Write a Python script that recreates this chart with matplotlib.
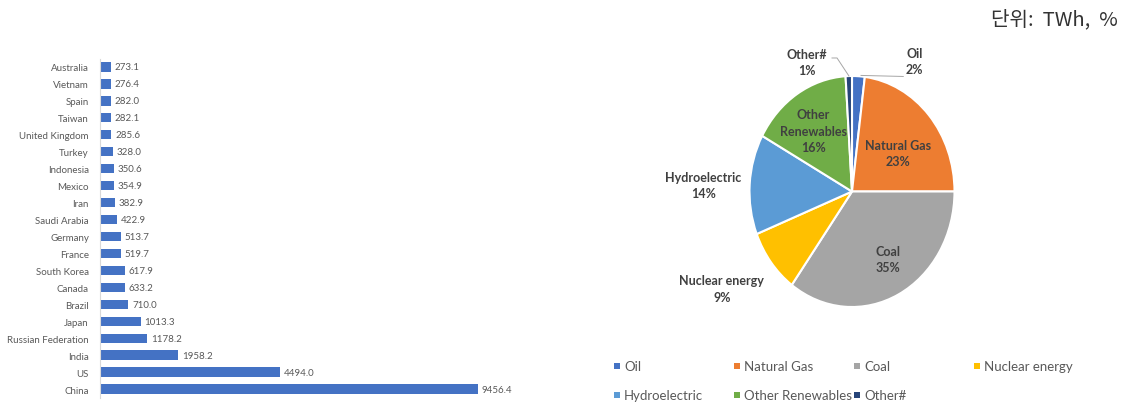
import matplotlib
matplotlib.use("Agg")
import matplotlib.pyplot as plt
from matplotlib.patches import Rectangle
import numpy as np

# Electricity generation by country (TWh)
countries = ["Australia", "Vietnam", "Spain", "Taiwan", "United Kingdom", "Turkey",
             "Indonesia", "Mexico", "Iran", "Saudi Arabia", "Germany", "France",
             "South Korea", "Canada", "Brazil", "Japan", "Russian Federation",
             "India", "US", "China"]
generation = [273.1, 276.4, 282.0, 282.1, 285.6, 328.0, 350.6, 354.9, 382.9, 422.9,
              513.7, 519.7, 617.9, 633.2, 710.0, 1013.3, 1178.2, 1958.2, 4494.0, 9456.4]

# Generation mix by source (%)
sources = ["Oil", "Natural Gas", "Coal", "Nuclear energy", "Hydroelectric",
           "Other Renewables", "Other#"]
shares = [2, 23, 35, 9, 14, 16, 1]
pie_labels = ["Oil", "Natural Gas", "Coal", "Nuclear energy", "Hydroelectric",
              "Other\nRenewables", "Other#"]

colors = ["#4472C4", "#ED7D31", "#A5A5A5", "#FFC000", "#5B9BD5", "#70AD47", "#264478"]

W, H = 1125, 406
fig = plt.figure(figsize=(W / 100, H / 100), dpi=100)
fig.patch.set_facecolor("white")

label_font = ["Lato", "DejaVu Sans"]

# ---- horizontal bar chart ----
ax = fig.add_axes([100 / W, 7.5 / H, 460 / W, 339 / H])
y = np.arange(len(countries))
ax.barh(y, generation, height=0.55, color="#4472C4")
ax.set_ylim(len(countries) - 0.5, -0.5)
ax.set_xlim(0, 11500)
ax.set_yticks(y)
ax.set_yticklabels(countries, fontsize=7, color="#595959", family=label_font)
ax.tick_params(axis="y", length=0, pad=8)
ax.set_xticks([])
for s in ["top", "right", "bottom"]:
    ax.spines[s].set_visible(False)
ax.spines["left"].set_color("#D9D9D9")
ax.spines["left"].set_linewidth(0.8)
for yi, v in zip(y, generation):
    ax.text(v + 90, yi, f"{v:.1f}", va="center", ha="left", fontsize=7,
            color="#595959", family=label_font)

# ---- pie chart (slightly taller than wide) ----
cx, cy = 852, 192.5
rx, ry = 102.5, 115.5
half = 150
pax = fig.add_axes([(cx - half) / W, (H - cy - half) / H, 2 * half / W, 2 * half / H])
wedges, _ = pax.pie(shares, colors=colors, startangle=90, counterclock=False,
                    wedgeprops=dict(edgecolor="white", linewidth=1.5), radius=1.0)
pax.set_aspect("auto")
pax.set_xlim(-half / rx, half / rx)
pax.set_ylim(-half / ry, half / ry)
pax.axis("off")

label_pos = [(0.61, 1.13), (0.45, 0.335), (0.35, -0.585), (-1.27, -0.84),
             (-1.45, 0.056), (-0.38, 0.525), (-0.44, 1.12)]
for lab, pct, (lx, ly) in zip(pie_labels, shares, label_pos):
    pax.text(lx, ly, f"{lab}\n{pct}%", ha="center", va="center", fontsize=9,
             fontweight="bold", color="#404040", family=label_font,
             linespacing=1.45, clip_on=False)

# leader lines for the two thin slices
pax.plot([0.088, 0.50], [1.005, 0.996], color="#A6A6A6", lw=0.7, clip_on=False)
pax.plot([-0.03, -0.146, -0.195], [1.0, 1.156, 1.156], color="#A6A6A6", lw=0.7,
         clip_on=False)

# ---- legend ----
for i, (name, c) in enumerate(zip(sources, colors)):
    row, col = divmod(i, 4)
    x0 = 617 + col * 120
    y0 = 367 + row * 29
    fig.patches.append(Rectangle(((x0 - 3) / W, (H - y0 - 3) / H), 6 / W, 6 / H,
                                 transform=fig.transFigure, facecolor=c,
                                 edgecolor="none"))
    fig.text((x0 + 7) / W, (H - y0) / H, name, ha="left", va="center",
             fontsize=9.5, color="#595959", family=label_font)

# ---- unit note ----
fig.text(1118 / W, (H - 20) / H, "단위:  TWh,  %", ha="right", va="center",
         fontsize=14.5, color="#333333", family=["Noto Sans CJK KR", "DejaVu Sans"])

fig.savefig("out.png", dpi=100, facecolor="white")
